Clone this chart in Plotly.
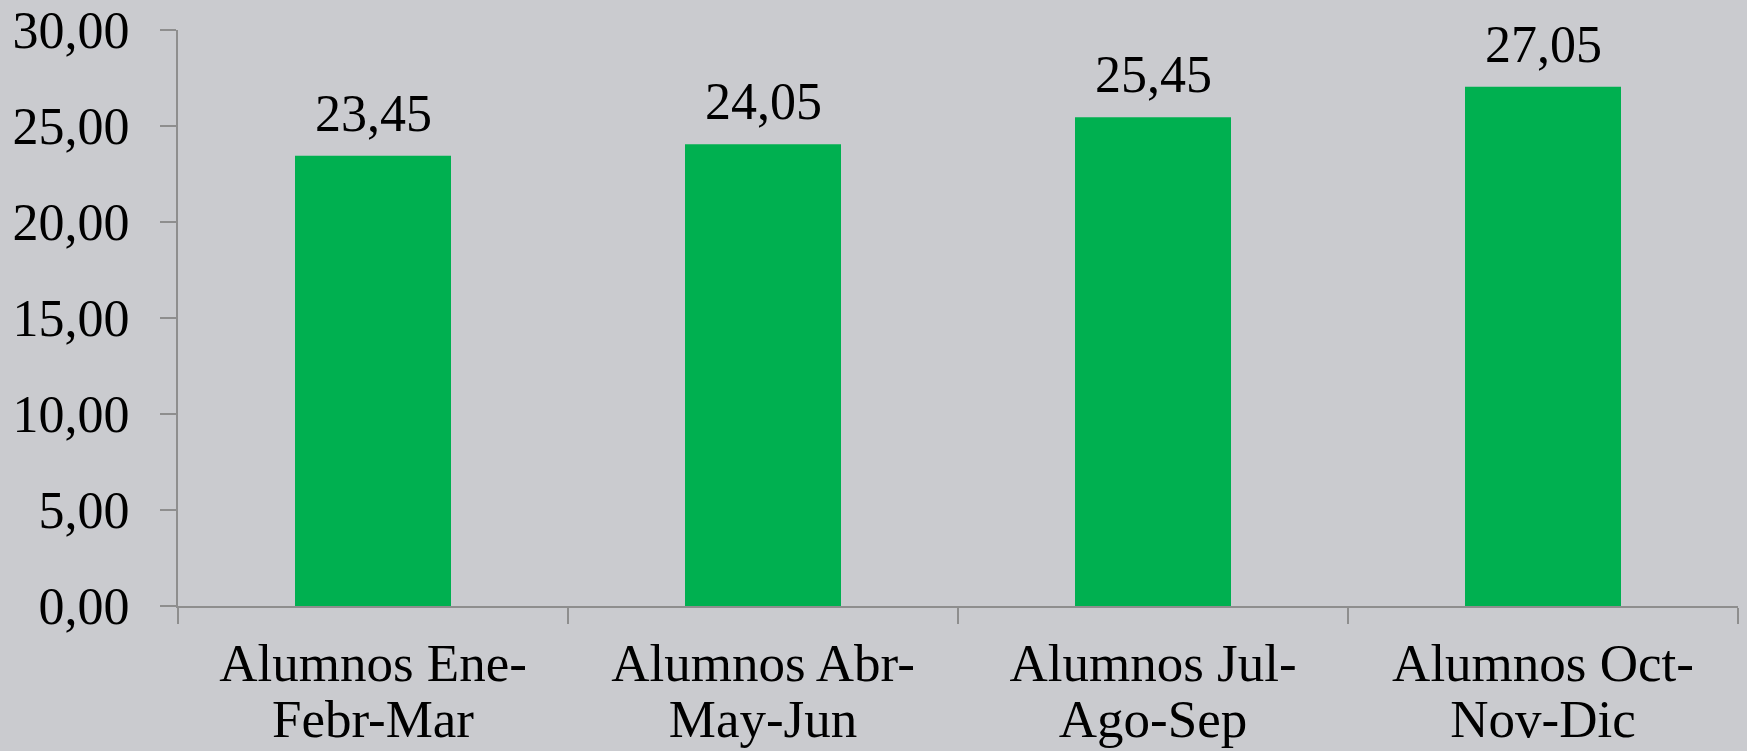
import plotly.graph_objects as go

cat_line1 = ["Alumnos Ene-", "Alumnos Abr-", "Alumnos Jul-", "Alumnos Oct-"]
cat_line2 = ["Febr-Mar", "May-Jun", "Ago-Sep", "Nov-Dic"]
values = [23.45, 24.05, 25.45, 27.05]
y_ticks = [0, 5, 10, 15, 20, 25, 30]

categories = [a + " " + b for a, b in zip(cat_line1, cat_line2)]
tick_text = [
    '<span style="font-size:53px">%s</span><br><span style="font-size:53px">%s</span>' % (a, b)
    for a, b in zip(cat_line1, cat_line2)
]

FONT = "Liberation Serif"
BG = "#CACBCF"
AXIS = "#8E8E8E"

fig = go.Figure(go.Bar(
    x=categories, y=values,
    marker=dict(color="#00B050", line=dict(width=0)),
    width=0.4,
    hoverinfo="skip",
))

for c, v in zip(categories, values):
    fig.add_annotation(
        x=c, y=v, text=("%.2f" % v).replace(".", ","),
        showarrow=False, yanchor="bottom", yshift=12,
        font=dict(family=FONT, size=52, color="black"),
    )

fig.update_layout(
    width=1747, height=751,
    paper_bgcolor=BG, plot_bgcolor=BG,
    margin=dict(l=178, r=9, t=30, b=145, autoexpand=False),
    separators=",.",
    showlegend=False,
    font=dict(family=FONT, size=52, color="black"),
)
fig.update_xaxes(
    tickvals=categories, ticktext=tick_text,
    showline=True, linecolor=AXIS, linewidth=2,
    ticks="outside", tickson="boundaries", ticklen=16, tickcolor=AXIS, tickwidth=2,
    ticklabelstandoff=21, automargin=False,
    tickfont=dict(family=FONT, size=43, color="black"),
    showgrid=False, zeroline=False,
)
fig.update_yaxes(
    range=[0, 30], tickvals=y_ticks, tickformat=".2f",
    showline=True, linecolor=AXIS, linewidth=2,
    ticks="outside", ticklen=16, tickcolor=AXIS, tickwidth=2,
    ticklabelstandoff=20, automargin=False,
    tickfont=dict(family=FONT, size=52, color="black"),
    showgrid=False, zeroline=False,
)

fig.write_html("out.html", config={"displayModeBar": False},
               post_script="document.body.style.margin='0';")
